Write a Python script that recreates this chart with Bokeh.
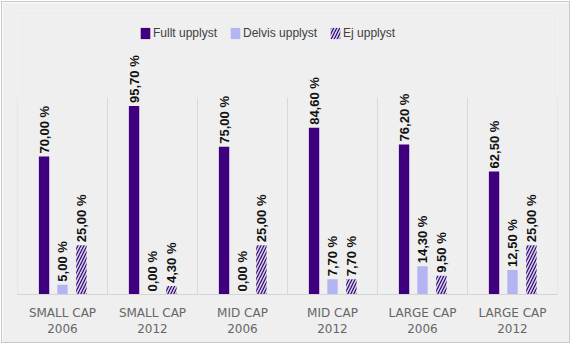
import numpy as np
from bokeh.plotting import figure
from bokeh.models import ColumnDataSource, FixedTicker, Legend, LegendItem, Range1d
from bokeh.transform import dodge
from bokeh.core.properties import value
from bokeh.embed import file_html
from bokeh.resources import INLINE

categories = ["SMALL CAP\n2006", "SMALL CAP\n2012", "MID CAP\n2006",
              "MID CAP\n2012", "LARGE CAP\n2006", "LARGE CAP\n2012"]
fullt = [70.0, 95.7, 75.0, 84.6, 76.2, 62.5]
delvis = [5.0, 0.0, 0.0, 7.7, 14.3, 12.5]
ej = [25.0, 4.3, 25.0, 7.7, 9.5, 25.0]
series_names = ["Fullt upplyst", "Delvis upplyst", "Ej upplyst"]
axis_max = 100.0


def fmt(v):
    return f"{v:.2f}".replace(".", ",") + " %"


x = list(range(len(categories)))
src = ColumnDataSource(dict(
    x=x, fullt=fullt, delvis=delvis, ej=ej,
    lf=[fmt(v) for v in fullt], ld=[fmt(v) for v in delvis], le=[fmt(v) for v in ej],
))

BG = "#efefef"
# frame spans canvas y 8..292; value axis 0..100 occupies bottom 197 px
frame_top, frame_bottom, axis_px = 8, 292, 197
y_hi = axis_max * (frame_bottom - frame_top) / axis_px
p = figure(width=569, height=342, output_backend="svg", toolbar_location=None,
           x_range=Range1d(-0.5, len(categories) - 0.5), y_range=Range1d(0, y_hi),
           min_border_left=15, min_border_right=14, min_border_top=frame_top,
           min_border_bottom=342 - frame_bottom,
           background_fill_color=BG, border_fill_color=BG, outline_line_color=None)
p.styles = {"border": "1px solid #c8c8c8", "margin": "1px"}

# category separators (value axis 0..100)
bounds = [i - 0.5 for i in range(len(categories) + 1)]
p.segment(x0=bounds, x1=bounds, y0=[0] * len(bounds), y1=[axis_max] * len(bounds),
          line_color="#d9d9d9", line_width=1)

offs = [-0.205, 0.0, 0.21]
bw = 0.115
r1 = p.vbar(x=dodge("x", offs[0]), top="fullt", width=bw, source=src,
            fill_color="#3f007f", line_color=None)
r2 = p.vbar(x=dodge("x", offs[1]), top="delvis", width=bw, source=src,
            fill_color="#b4b4f2", line_color=None)
r3 = p.vbar(x=dodge("x", offs[2]), top="ej", width=bw, source=src,
            fill_color="#dccdf8", line_color=None, hatch_pattern="/",
            hatch_color="#2a0a5c", hatch_scale=6, hatch_weight=1.2)

for off, col, lab in zip(offs, ["fullt", "delvis", "ej"], ["lf", "ld", "le"]):
    p.text(x=dodge("x", off), y=col, text=lab, source=src, angle=np.pi / 2,
           text_align="left", text_baseline="middle", y_offset=-3,
           text_font=value("Liberation Sans"), text_font_style="bold",
           text_font_size="13px", text_color="#111111")

# axes
p.yaxis.visible = False
p.xaxis.ticker = FixedTicker(ticks=x)
p.xaxis.major_label_overrides = {i: c for i, c in zip(x, categories)}
p.xaxis.major_tick_line_color = None
p.xaxis.minor_tick_line_color = None
p.xaxis.axis_line_color = "#d4d4d4"
p.xaxis.major_label_text_font = "DejaVu Sans"
p.xaxis.major_label_text_font_size = "12px"
p.xaxis.major_label_text_color = "#666666"
p.xaxis.major_label_standoff = 5

p.grid.visible = False

legend = Legend(items=[LegendItem(label=series_names[0], renderers=[r1]),
                       LegendItem(label=series_names[1], renderers=[r2]),
                       LegendItem(label=series_names[2], renderers=[r3])],
                orientation="horizontal", location=(122, 254), padding=0, margin=0,
                spacing=12, glyph_width=12, glyph_height=14, label_height=14,
                label_standoff=2, label_text_font="Liberation Sans",
                label_text_font_size="12px", label_text_color="#404040",
                border_line_color=None, background_fill_alpha=0)
p.add_layout(legend)

open("out.html", "w").write(file_html(p, INLINE))
